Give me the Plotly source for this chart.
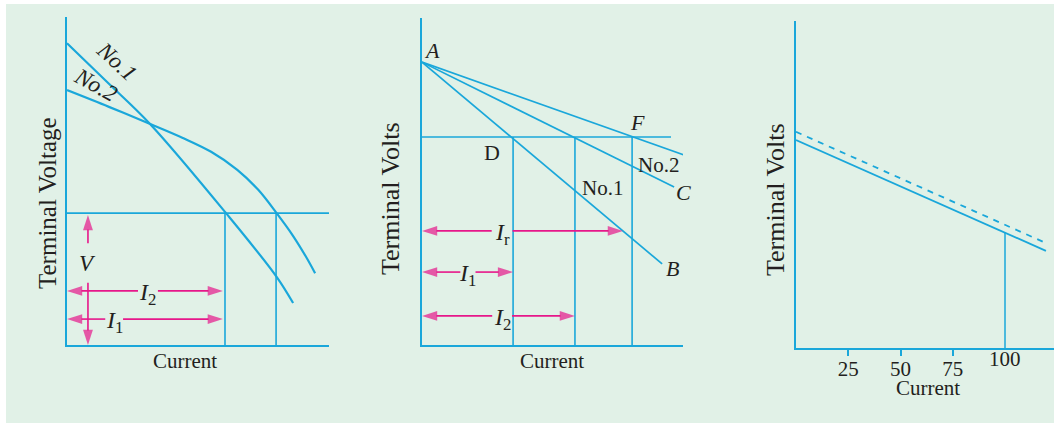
import plotly.graph_objects as go
import numpy as np

CYAN = '#1AA7DA'
MAG = '#E6178A'
BG = '#E1F1E7'
INK = '#231F20'
FONT = 'Liberation Serif'
W, H = 1054, 423

# ---------------- Panel 1 data (arbitrary units) ----------------
p1_no1_x = [0, 15.8, 31.7, 60.7, 80.0, 86.3]
p1_no1_y = [92.0, 79.8, 67.4, 40.2, 20.8, 12.8]
p1_no2_x = [0, 16, 32, 44, 55, 65, 73, 80, 86, 91, 94.7]
p1_no2_y = [77.7, 72.6, 67.3, 63.2, 58.9, 53.4, 47.3, 40.2, 33.6, 27.2, 21.9]
p1_volt = 40.2
p1_cur = [60.3, 79.8]

# ---------------- Panel 2 data ----------------
p2_A = (0, 86.5)
p2_ends_x = [92.0, 96.6, 101.5]   # B, C, top line
p2_ends_y = [24.8, 48.3, 57.8]
p2_volt = 63.6
p2_hline_end = 95.4
p2_cur = [34.9, 58.6, 80.5]

# ---------------- Panel 3 data ----------------
p3_x = [0, 119.6]
p3_solid = [63.6, 29.7]
p3_dashed = [66.1, 32.1]
p3_mark = 100
p3_ticks = [25, 50, 75, 100]
p3_ticklabels = ['25', '50', '75', '100']

fig = go.Figure()


def line(xs, ys, ax, width=1.8, dash='solid', shape='linear'):
    fig.add_trace(go.Scatter(x=xs, y=ys, mode='lines', xaxis='x' + ax, yaxis='y' + ax,
                             line=dict(color=CYAN, width=width, dash=dash, shape=shape, smoothing=1.0),
                             hoverinfo='skip'))


def half_arrow(p0, p1, ax):
    fig.add_trace(go.Scatter(x=[p0[0], p1[0]], y=[p0[1], p1[1]], mode='lines+markers',
                             xaxis='x' + ax, yaxis='y' + ax,
                             line=dict(color=MAG, width=1.6),
                             marker=dict(symbol='arrow', size=[0, 16], color=MAG, angleref='previous',
                                         line=dict(width=0)),
                             hoverinfo='skip'))


def harrow(ax, y, x0, x1, lx, gap, label, size=24):
    half_arrow((lx - gap, y), (x0, y), ax)
    half_arrow((lx + gap, y), (x1, y), ax)
    fig.add_annotation(x=lx, y=y, xref='x' + ax, yref='y' + ax, text=label, showarrow=False,
                       xanchor='center', yanchor='middle',
                       font=dict(family=FONT, size=size, color=INK), yshift=-3)


def varrow(ax, x, y0, y1, ly, gap, label, size=23):
    half_arrow((x, ly - gap), (x, y0), ax)
    half_arrow((x, ly + gap), (x, y1), ax)
    fig.add_annotation(x=x, y=ly, xref='x' + ax, yref='y' + ax, text=label, showarrow=False,
                       xanchor='center', yanchor='middle',
                       font=dict(family=FONT, size=size, color=INK))


def label(ax, x, y, text, size=21, angle=0):
    fig.add_annotation(x=x, y=y, xref='x' + ax, yref='y' + ax, text=text, showarrow=False,
                       xanchor='center', yanchor='middle',
                       textangle=angle, font=dict(family=FONT, size=size, color=INK))


def plabel(px, py, text, size=21, angle=0):
    fig.add_annotation(x=px / W, y=1 - py / H, xref='paper', yref='paper', text=text,
                       showarrow=False, textangle=angle, xanchor='center', yanchor='middle',
                       font=dict(family=FONT, size=size, color=INK))


# ---- Panel 1 ----
line(p1_no1_x, p1_no1_y, '', width=2.2, shape='spline')
line(p1_no2_x, p1_no2_y, '', width=2.2, shape='spline')
line([0, 100], [p1_volt, p1_volt], '', width=1.6)
for c in p1_cur:
    line([c, c], [0, p1_volt], '', width=1.6)
varrow('', 8.0, 0, 39.6, 25.0, 6.0, '<i>V</i>')
harrow('', 16.5, 0, 59.5, 30.9, 3.8, '<i>I</i><sub>2</sub>')
harrow('', 7.9, 0, 59.5, 18.0, 3.4, '<i>I</i><sub>1</sub>')
label('', 19.0, 86.4, '<i>No.1</i>', size=23, angle=43)
label('', 10.7, 79.3, '<i>No.2</i>', size=23, angle=29)

# ---- Panel 2 ----
for ex, ey in zip(p2_ends_x, p2_ends_y):
    line([p2_A[0], ex], [p2_A[1], ey], '2', width=1.7)
line([0, p2_hline_end], [p2_volt, p2_volt], '2', width=1.6)
for c in p2_cur:
    line([c, c], [0, p2_volt], '2', width=1.6)
harrow('2', 34.9, 0, 77.0, 30.7, 4.0, '<i>I</i><sub>r</sub>')
harrow('2', 22.3, 0, 34.9, 17.6, 2.9, '<i>I</i><sub>1</sub>')
harrow('2', 8.9, 0, 58.6, 30.7, 3.8, '<i>I</i><sub>2</sub>')
label('2', 3.8, 90.2, '<i>A</i>', size=22)
label('2', 26.8, 59.0, 'D', size=22)
label('2', 82.4, 67.9, '<i>F</i>', size=22)
label('2', 90.8, 55.0, 'No.2')
label('2', 69.3, 48.0, 'No.1')
label('2', 95.8, 23.5, '<i>B</i>', size=22)
label('2', 100.0, 46.5, '<i>C</i>', size=22)

# ---- Panel 3 ----
line(p3_x, p3_solid, '3', width=1.8)
line(p3_x, p3_dashed, '3', width=1.8, dash='6px,6px')
mark_y = float(np.interp(p3_mark, p3_x, p3_solid))
line([p3_mark, p3_mark], [0, mark_y], '3', width=1.5)
fig.add_annotation(x=p3_ticks[-1], y=1 - 359 / H, xref='x3', yref='paper', text=p3_ticklabels[-1],
                   showarrow=False, xanchor='center', yanchor='middle',
                   font=dict(family=FONT, size=21, color=INK))

# ---- axis titles ----
plabel(47, 203, 'Terminal Voltage', size=25, angle=-90)
plabel(390, 199, 'Terminal Volts', size=26, angle=-90)
plabel(775, 200, 'Terminal Volts', size=26, angle=-90)
plabel(185, 361, 'Current')
plabel(552, 361, 'Current')
plabel(928, 388, 'Current')

base = dict(showgrid=False, zeroline=False, showline=True, linecolor=CYAN, linewidth=2,
            ticks='', showticklabels=False, fixedrange=True)

fig.update_layout(
    width=W, height=H, margin=dict(l=0, r=0, t=0, b=0),
    paper_bgcolor='white', plot_bgcolor=BG, showlegend=False,
    shapes=[dict(type='rect', xref='paper', yref='paper', x0=6 / W, x1=1, y0=0, y1=1 - 4 / H,
                 fillcolor=BG, line=dict(width=0), layer='below')],
    xaxis=dict(base, domain=[67 / W, 329 / W], range=[0, 100], anchor='y'),
    yaxis=dict(base, domain=[1 - 345 / H, 1 - 17 / H], range=[0, 100], anchor='x'),
    xaxis2=dict(base, domain=[422 / W, 683 / W], range=[0, 100], anchor='y2'),
    yaxis2=dict(base, domain=[1 - 345 / H, 1 - 18 / H], range=[0, 100], anchor='x2'),
    xaxis3=dict(base, domain=[796 / W, 1.0], range=[0, 258 / 2.09], anchor='y3',
                tickvals=p3_ticks[:-1], ticktext=p3_ticklabels[:-1], ticks='outside', ticklen=6,
                tickwidth=2, tickcolor=CYAN, showticklabels=True, ticklabelstandoff=-5,
                tickfont=dict(family=FONT, size=21, color=INK)),
    yaxis3=dict(base, domain=[1 - 348 / H, 1 - 21 / H], range=[0, 100], anchor='x3'),
)

fig.write_html('out.html', config={'displayModeBar': False, 'staticPlot': True},
               post_script="document.body.style.margin='0px';")
